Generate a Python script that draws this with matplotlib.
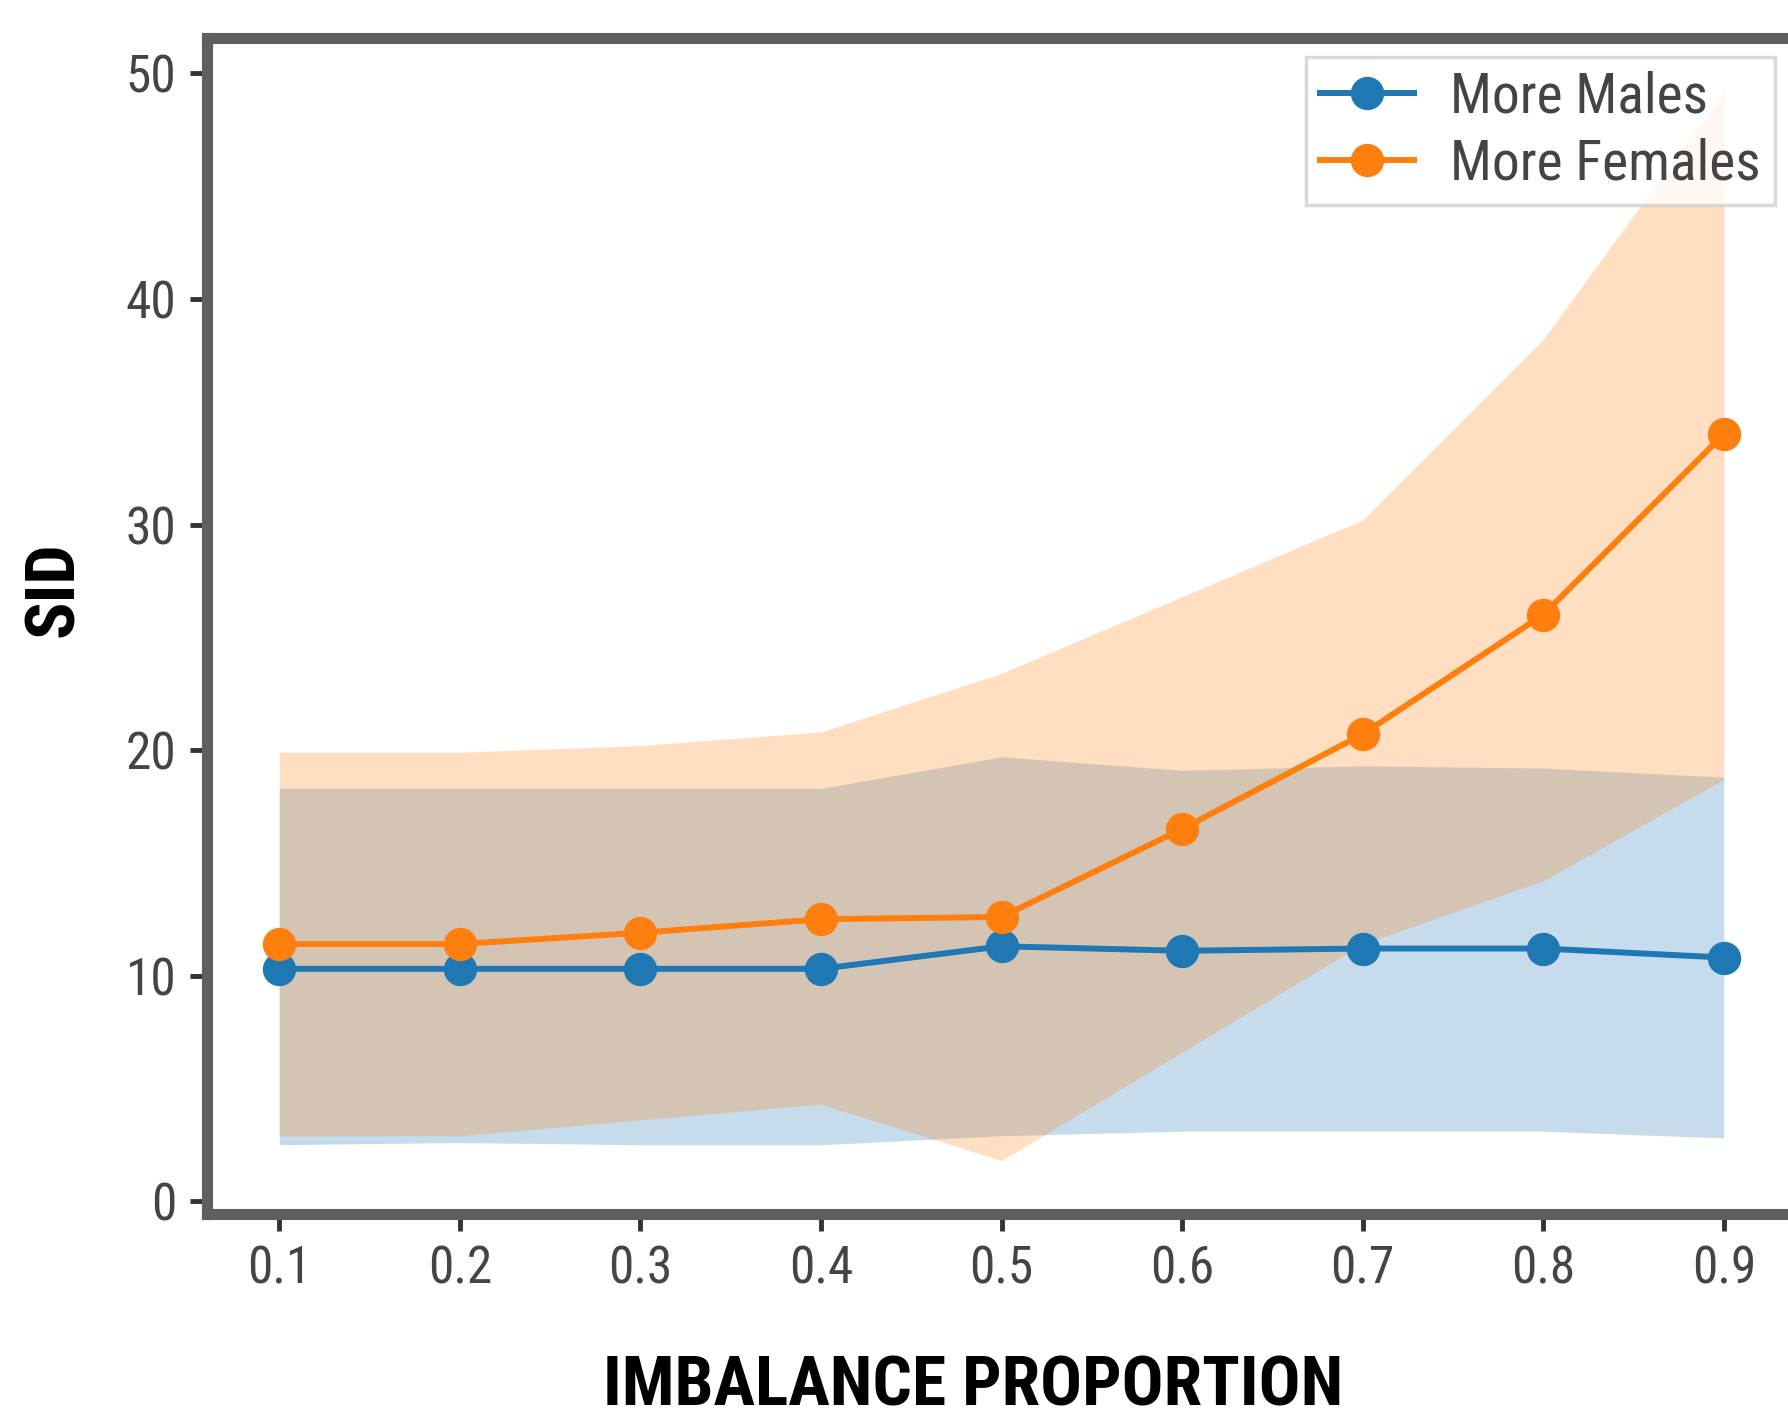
import matplotlib
matplotlib.use("Agg")
import matplotlib.pyplot as plt

# imbalance proportions on the x axis
proportions = [0.1, 0.2, 0.3, 0.4, 0.5, 0.6, 0.7, 0.8, 0.9]

# "More Males" mean SID and its band
males_mean = [10.3, 10.3, 10.3, 10.3, 11.3, 11.1, 11.2, 11.2, 10.8]
males_low = [2.5, 2.6, 2.5, 2.5, 2.9, 3.1, 3.1, 3.1, 2.8]
males_high = [18.3, 18.3, 18.3, 18.3, 19.7, 19.1, 19.3, 19.2, 18.8]

# "More Females" mean SID and its band
females_mean = [11.4, 11.4, 11.9, 12.5, 12.6, 16.5, 20.7, 26.0, 34.0]
females_low = [2.9, 2.9, 3.6, 4.3, 1.8, 6.6, 11.4, 14.2, 18.7]
females_high = [19.9, 19.9, 20.2, 20.8, 23.4, 26.8, 30.2, 38.2, 49.2]

yticks = [0, 10, 20, 30, 40, 50]

narrow = ['Roboto Condensed', 'Liberation Sans Narrow', 'DejaVu Sans']

W, H = 1788, 1422
fig = plt.figure(figsize=(W / 100, H / 100), dpi=100)
# axes runs past the right edge, like the cropped original
ax = fig.add_axes([207 / W, 208 / H, (1796 - 207) / W, (1384 - 208) / H])

ax.fill_between(proportions, males_low, males_high, color='#1f77b4', alpha=0.25, linewidth=0)
ax.fill_between(proportions, females_low, females_high, color='#ff7f0e', alpha=0.25, linewidth=0)
ax.plot(proportions, males_mean, marker='o', color='#1f77b4', linewidth=4.3, markersize=23, label='More Males')
ax.plot(proportions, females_mean, marker='o', color='#ff7f0e', linewidth=4.3, markersize=23, label='More Females')

ax.set_xticks(proportions)
ax.set_xticklabels([f"{p:.1f}" for p in proportions])
ax.set_yticks(yticks)
ax.tick_params(axis='both', length=12, width=3.5, color='#333333', labelcolor='#444444', pad=10,
               labelsize=37)
for lab in ax.get_xticklabels() + ax.get_yticklabels():
    lab.set_family(narrow)
for sp in ax.spines.values():
    sp.set_linewidth(8)
    sp.set_color('#5f5f5f')

leg = ax.legend(loc='upper right', bbox_to_anchor=(1775 / W, 1 - 57 / H), bbox_transform=fig.transFigure,
                prop={'family': narrow, 'size': 40}, handlelength=1.7, handletextpad=0.65,
                borderpad=0.25, labelspacing=0.25, borderaxespad=0, framealpha=0.8, fancybox=False)
leg.get_frame().set_edgecolor('#d0d0d0')
leg.get_frame().set_linewidth(2.5)
for t in leg.get_texts():
    t.set_color('#444444')

fig.text(55 / W, 1 - 589 / H, 'SID', rotation=90, ha='center', va='center',
         family=narrow, weight='bold', fontsize=50)
fig.text(973 / W, 17 / H, 'IMBALANCE PROPORTION', ha='center', va='baseline',
         family=narrow, weight='bold', fontsize=50)

fig.savefig('out.png', dpi=100, facecolor='white')
